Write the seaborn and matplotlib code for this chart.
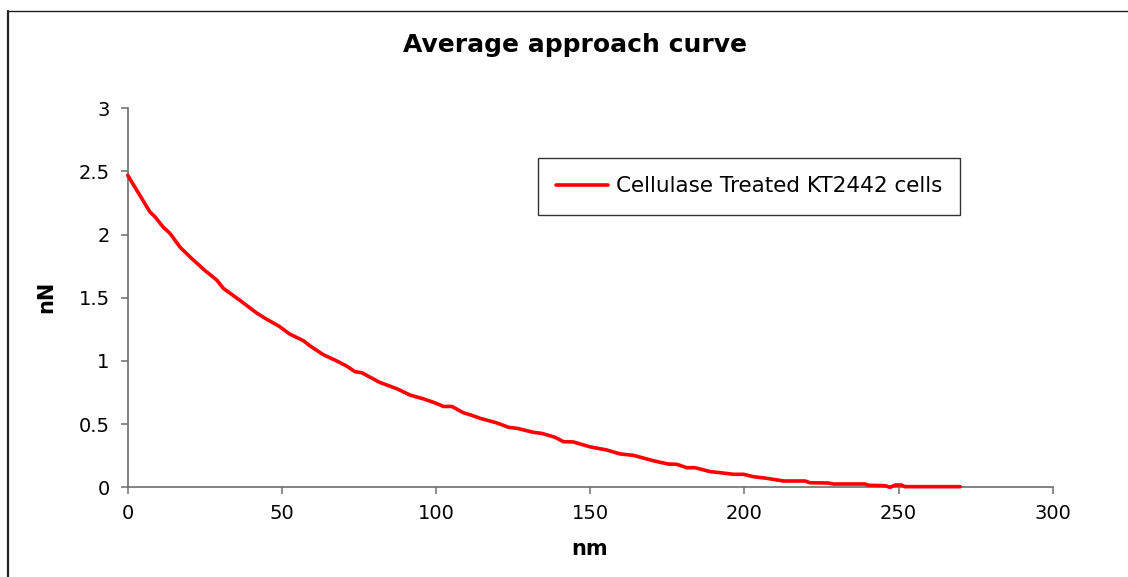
import matplotlib
matplotlib.use("Agg")
import matplotlib.pyplot as plt
from matplotlib.lines import Line2D
import seaborn as sns
import pandas as pd

# Averaged approach curve: tip-sample separation (nm) vs force (nN)
nm = [0, 7.2, 8.9, 11.5, 13.7, 17.0, 20.8, 25.1, 28.9, 31.0, 36.4, 41.8, 45.1,
      49.1, 52.4, 57.0, 59.1, 63.4, 67.8, 71.0, 73.7, 75.9, 81.8, 87.3, 91.6,
      95.9, 99.5, 102.4, 105.1, 108.9, 111.6, 114.3, 119.7, 123.5, 126.2, 131.6,
      134.3, 138.6, 141.3, 144.5, 150.0, 155.4, 159.7, 164.0, 170.5, 175.3,
      178.1, 181.3, 184.0, 188.9, 192.1, 196.4, 199.7, 202.9, 207.3, 212.7,
      219.7, 221.3, 227.2, 228.9, 239.2, 240.2, 245.6, 247.3, 248.9, 251.0,
      252.1, 270.0]
nN = [2.47, 2.18, 2.14, 2.06, 2.01, 1.90, 1.81, 1.715, 1.64, 1.575, 1.48, 1.38,
      1.33, 1.275, 1.215, 1.16, 1.12, 1.05, 1.00, 0.96, 0.915, 0.907, 0.83, 0.78,
      0.73, 0.70, 0.67, 0.64, 0.64, 0.59, 0.57, 0.546, 0.51, 0.475, 0.467, 0.435,
      0.427, 0.396, 0.361, 0.359, 0.32, 0.295, 0.264, 0.253, 0.21, 0.184, 0.182,
      0.155, 0.155, 0.124, 0.116, 0.103, 0.103, 0.084, 0.071, 0.05, 0.05, 0.036,
      0.034, 0.026, 0.026, 0.016, 0.013, 0.0, 0.018, 0.018, 0.005, 0.005]
series_label = "Cellulase Treated KT2442 cells"
x_ticks = [0, 50, 100, 150, 200, 250, 300]
y_ticks = [0, 0.5, 1, 1.5, 2, 2.5, 3]
y_tick_labels = ["0", "0.5", "1", "1.5", "2", "2.5", "3"]

sns.set_style("ticks")
plt.rcParams["font.family"] = ["DejaVu Sans"]
plt.rcParams["text.color"] = "black"
plt.rcParams["xtick.labelcolor"] = "black"
plt.rcParams["ytick.labelcolor"] = "black"

W, H = 1128, 577
fig = plt.figure(figsize=(W / 100, H / 100), dpi=100)
ax = fig.add_axes([127.7 / W, 1 - 487.3 / H, (1052.7 - 127.7) / W, (487.3 - 108.3) / H])

df = pd.DataFrame({"nm": nm, "nN": nN})
sns.lineplot(data=df, x="nm", y="nN", color="#ff0000", lw=2.6, label=series_label,
             sort=False, estimator=None, ax=ax, clip_on=False, zorder=5)

ax.set_xlim(0, 300)
ax.set_ylim(0, 3)
ax.set_xticks(x_ticks)
ax.set_xticklabels([str(t) for t in x_ticks])
ax.set_yticks(y_ticks)
ax.set_yticklabels(y_tick_labels)
ax.set_xlabel("")
ax.set_ylabel("")
ax.set_facecolor("white")

axis_col = "#6e6e6e"
for side in ("top", "right"):
    ax.spines[side].set_visible(False)
for side in ("left", "bottom"):
    ax.spines[side].set_color(axis_col)
    ax.spines[side].set_linewidth(1.2)
ax.tick_params(axis="both", direction="out", length=5, width=1.1, color=axis_col,
               labelsize=14, labelcolor="black")
ax.tick_params(axis="x", pad=7)
ax.tick_params(axis="y", pad=8)

fig.text(575 / W, 1 - 45 / H, "Average approach curve", ha="center", va="center",
         fontsize=18, fontweight="bold", color="black")
fig.text(590 / W, 1 - 549 / H, "nm", ha="center", va="center", fontsize=15,
         fontweight="bold", color="black")
fig.text(46 / W, 1 - 297 / H, "nN", ha="center", va="center", rotation=90,
         fontsize=15, fontweight="bold", color="black")

leg = ax.legend(loc="upper left", bbox_to_anchor=(538 / W, 1 - 158 / H),
                bbox_transform=fig.transFigure, borderaxespad=0, frameon=True,
                fancybox=False, shadow=False, fontsize=15.5, handlelength=2.4,
                handletextpad=0.35, borderpad=0.85)
leg.get_frame().set_edgecolor("black")
leg.get_frame().set_linewidth(1.0)
for t in leg.get_texts():
    t.set_color("black")

# Outer chart frame (top and left edges)
fig.add_artist(Line2D([8 / W, 8 / W], [0, 1 - 11 / H], transform=fig.transFigure,
                      color="#222222", lw=1.6))
fig.add_artist(Line2D([8 / W, 1], [1 - 11 / H, 1 - 11 / H], transform=fig.transFigure,
                      color="#222222", lw=1.0))

fig.savefig("out.png", dpi=100, facecolor="white")
